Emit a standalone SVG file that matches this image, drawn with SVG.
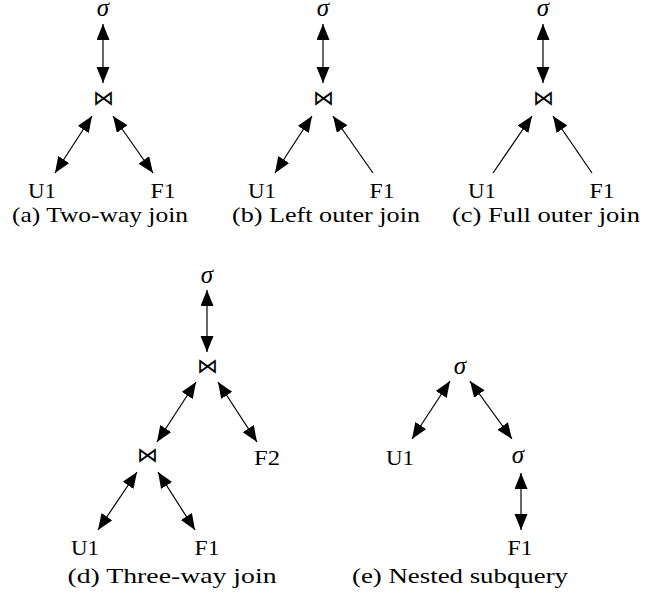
<svg xmlns="http://www.w3.org/2000/svg" width="668" height="601" viewBox="0 0 668 601">
  <style>
    text { font-family: "Liberation Serif", "DejaVu Serif", serif; fill: #000; text-anchor: middle; }
    .lbl { font-size: 21px; }
    .sig { font-size: 25px; font-style: italic; }
    .join { font-family: "DejaVu Sans", "Noto Sans", sans-serif; font-size: 21px; font-weight: 200; }
    .cap { font-size: 21px; }
    .edge { stroke: #000; stroke-width: 1.2; fill: none; }
    .both { marker-start: url(#head); marker-end: url(#head); }
    .one { marker-end: url(#head); }
  </style>
  <defs>
    <marker id="head" markerUnits="userSpaceOnUse" markerWidth="17" markerHeight="14" refX="16" refY="6.5" orient="auto-start-reverse">
      <path d="M0,0 L16,6.5 L0,13 z" fill="#000"/>
    </marker>
  </defs>

  <g id="connectors">
    <!-- (a) two-way join -->
    <line class="edge both" x1="103" y1="24" x2="103" y2="83"/>
    <line class="edge both" x1="92" y1="116" x2="55" y2="173"/>
    <line class="edge both" x1="113" y1="116" x2="153" y2="173"/>
    <!-- (b) left outer join -->
    <line class="edge both" x1="323" y1="24" x2="323" y2="83"/>
    <line class="edge both" x1="312" y1="116" x2="275" y2="173"/>
    <line class="edge one" x1="373" y1="173" x2="333" y2="116"/>
    <!-- (c) full outer join -->
    <line class="edge both" x1="543" y1="24" x2="543" y2="83"/>
    <line class="edge one" x1="493" y1="173" x2="532" y2="116"/>
    <line class="edge one" x1="592" y1="173" x2="553" y2="116"/>
    <!-- (d) three-way join -->
    <line class="edge both" x1="207" y1="290" x2="207" y2="352"/>
    <line class="edge both" x1="196" y1="382" x2="157" y2="442"/>
    <line class="edge both" x1="218" y1="382" x2="257" y2="442"/>
    <line class="edge both" x1="137" y1="472" x2="98" y2="530"/>
    <line class="edge both" x1="158" y1="472" x2="195" y2="530"/>
    <!-- (e) nested subquery -->
    <line class="edge both" x1="450" y1="381" x2="412" y2="439"/>
    <line class="edge both" x1="470" y1="381" x2="512" y2="439"/>
    <line class="edge both" x1="521" y1="473" x2="521" y2="530"/>
  </g>

  <!-- (a) -->
  <g id="a-select"><text class="sig" x="103" y="16">σ</text></g>
  <g id="a-join"><text class="join" x="103" y="105">⋈</text></g>
  <g id="a-u1"><text class="lbl" x="42" y="198" textLength="28" lengthAdjust="spacingAndGlyphs">U1</text></g>
  <g id="a-f1"><text class="lbl" x="163" y="198" textLength="25" lengthAdjust="spacingAndGlyphs">F1</text></g>
  <g id="a-caption"><text class="cap" x="100" y="222" textLength="176" lengthAdjust="spacingAndGlyphs">(a) Two-way join</text></g>

  <!-- (b) -->
  <g id="b-select"><text class="sig" x="323" y="16">σ</text></g>
  <g id="b-join"><text class="join" x="323" y="105">⋈</text></g>
  <g id="b-u1"><text class="lbl" x="262" y="198" textLength="28" lengthAdjust="spacingAndGlyphs">U1</text></g>
  <g id="b-f1"><text class="lbl" x="382" y="198" textLength="25" lengthAdjust="spacingAndGlyphs">F1</text></g>
  <g id="b-caption"><text class="cap" x="326" y="222" textLength="188" lengthAdjust="spacingAndGlyphs">(b) Left outer join</text></g>

  <!-- (c) -->
  <g id="c-select"><text class="sig" x="543" y="16">σ</text></g>
  <g id="c-join"><text class="join" x="543" y="105">⋈</text></g>
  <g id="c-u1"><text class="lbl" x="482" y="198" textLength="28" lengthAdjust="spacingAndGlyphs">U1</text></g>
  <g id="c-f1"><text class="lbl" x="602" y="198" textLength="25" lengthAdjust="spacingAndGlyphs">F1</text></g>
  <g id="c-caption"><text class="cap" x="546" y="222" textLength="188" lengthAdjust="spacingAndGlyphs">(c) Full outer join</text></g>

  <!-- (d) -->
  <g id="d-select"><text class="sig" x="207" y="283">σ</text></g>
  <g id="d-join-top"><text class="join" x="207" y="373">⋈</text></g>
  <g id="d-join-low"><text class="join" x="147" y="462">⋈</text></g>
  <g id="d-f2"><text class="lbl" x="267" y="465" textLength="26" lengthAdjust="spacingAndGlyphs">F2</text></g>
  <g id="d-u1"><text class="lbl" x="85" y="555" textLength="28" lengthAdjust="spacingAndGlyphs">U1</text></g>
  <g id="d-f1"><text class="lbl" x="207" y="555" textLength="25" lengthAdjust="spacingAndGlyphs">F1</text></g>
  <g id="d-caption"><text class="cap" x="172" y="583" textLength="209" lengthAdjust="spacingAndGlyphs">(d) Three-way join</text></g>

  <!-- (e) -->
  <g id="e-select-outer"><text class="sig" x="460" y="374">σ</text></g>
  <g id="e-u1"><text class="lbl" x="400" y="465" textLength="28" lengthAdjust="spacingAndGlyphs">U1</text></g>
  <g id="e-select-inner"><text class="sig" x="518" y="463">σ</text></g>
  <g id="e-f1"><text class="lbl" x="520" y="555" textLength="25" lengthAdjust="spacingAndGlyphs">F1</text></g>
  <g id="e-caption"><text class="cap" x="460" y="583" textLength="216" lengthAdjust="spacingAndGlyphs">(e) Nested subquery</text></g>
</svg>
